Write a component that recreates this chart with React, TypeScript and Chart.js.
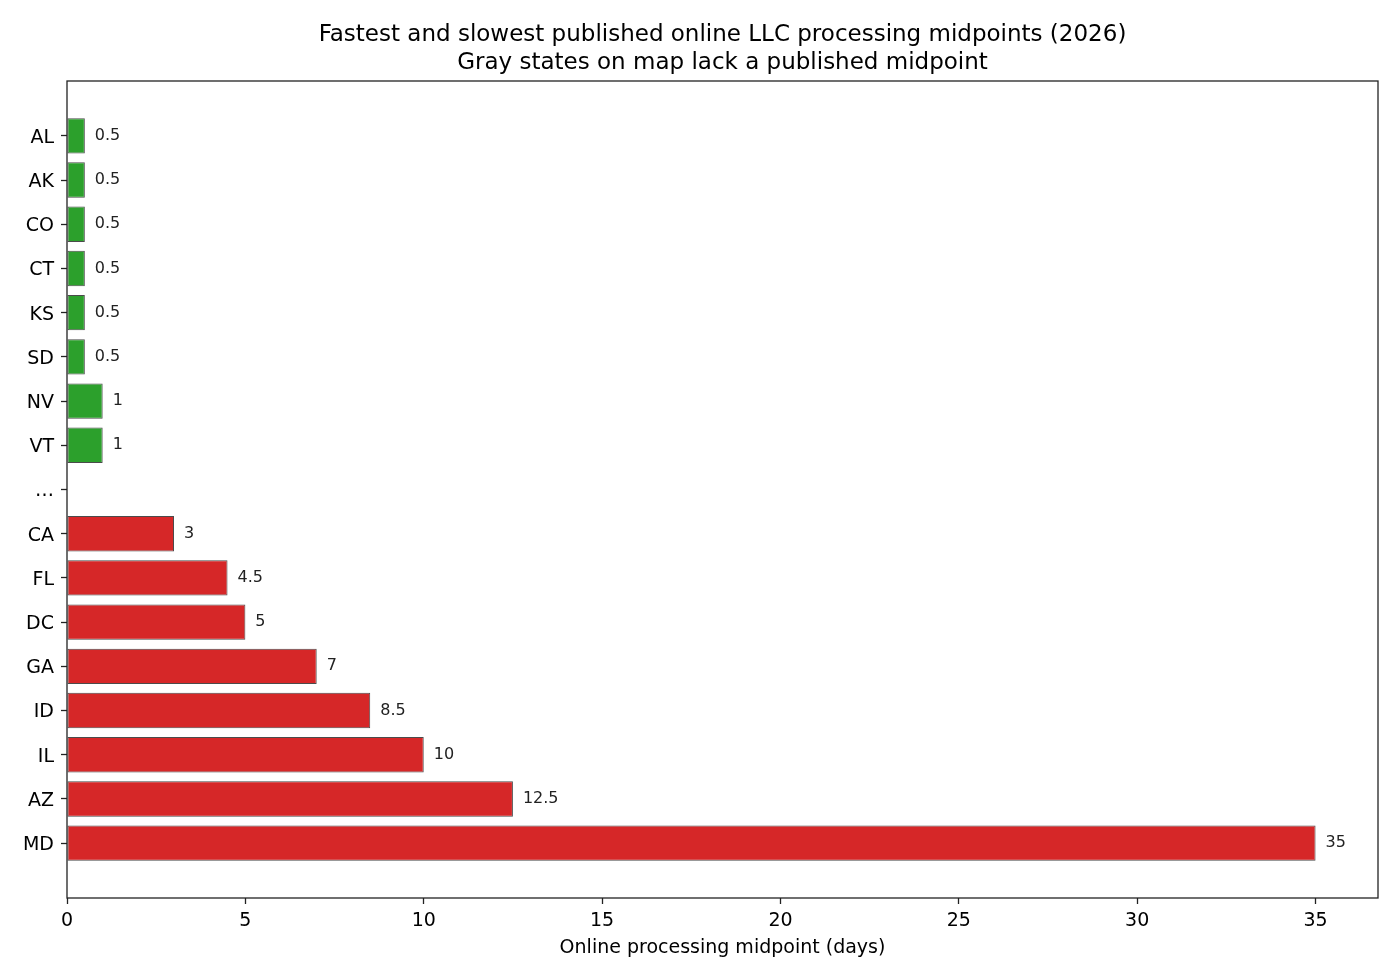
import { useEffect, useRef } from "react";
import { Chart, registerables } from "chart.js";

Chart.register(...registerables);

// fastest published midpoints (days)
const fastStates = ["AL", "AK", "CO", "CT", "KS", "SD", "NV", "VT"];
const fastDays = [0.5, 0.5, 0.5, 0.5, 0.5, 0.5, 1, 1];

// slowest published midpoints (days)
const slowStates = ["CA", "FL", "DC", "GA", "ID", "IL", "AZ", "MD"];
const slowDays = [3, 4.5, 5, 7, 8.5, 10, 12.5, 35];

const gapLabel = "…";
const xTicks = [0, 5, 10, 15, 20, 25, 30, 35];

const titleLines = [
  "Fastest and slowest published online LLC processing midpoints (2026)",
  "Gray states on map lack a published midpoint",
];
const xTitle = "Online processing midpoint (days)";

const fastColor = "#2ca02c";
const slowColor = "#d62728";
const font = "'DejaVu Sans', sans-serif";

const labels = [...fastStates, gapLabel, ...slowStates];
const values: (number | null)[] = [...fastDays, null, ...slowDays];
const barColors = [
  ...fastStates.map(() => fastColor),
  "rgba(0,0,0,0)",
  ...slowStates.map(() => slowColor),
];

const W = 1400;
const H = 980;
const PLOT = { left: 67, right: 1378, top: 81, bottom: 898 };

const decorPlugin = {
  id: "decor",
  afterDatasetsDraw(chart: Chart) {
    const ctx = chart.ctx;
    const meta = chart.getDatasetMeta(0);
    ctx.save();
    ctx.font = `16px ${font}`;
    ctx.fillStyle = "#222";
    ctx.textAlign = "left";
    ctx.textBaseline = "middle";
    meta.data.forEach((el: any, i) => {
      const v = values[i];
      if (v == null) return;
      ctx.fillText(String(v), el.x + 10, el.y);
    });
    ctx.restore();
  },
  afterDraw(chart: Chart) {
    const ctx = chart.ctx;
    const a = chart.chartArea;
    ctx.save();
    ctx.strokeStyle = "#222";
    ctx.lineWidth = 1.3;
    ctx.strokeRect(a.left, a.top, a.right - a.left, a.bottom - a.top);

    ctx.fillStyle = "#000";
    ctx.textAlign = "center";
    ctx.textBaseline = "middle";
    const cx = (a.left + a.right) / 2;
    ctx.font = `23px ${font}`;
    ctx.fillText(titleLines[0], cx, 35);
    ctx.fillText(titleLines[1], cx, 63);
    ctx.font = `19px ${font}`;
    ctx.fillText(xTitle, cx, 948);
    ctx.restore();
  },
};

export default function App() {
  const canvasRef = useRef<HTMLCanvasElement | null>(null);
  const chartRef = useRef<Chart | null>(null);

  useEffect(() => {
    const canvas = canvasRef.current;
    if (!canvas) return;

    chartRef.current?.destroy();

    chartRef.current = new Chart(canvas, {
      type: "bar",
      data: {
        datasets: [
          {
            data: values.map((v, i) => ({ x: v as any, y: i })),
            backgroundColor: barColors,
            borderColor: "rgba(55,55,55,0.9)",
            borderWidth: 1,
            borderSkipped: false,
            barPercentage: 0.8,
            categoryPercentage: 1,
          },
        ],
      },
      options: {
        indexAxis: "y",
        responsive: false,
        animation: false,
        devicePixelRatio: 1,
        layout: {
          padding: {
            left: 0,
            right: W - PLOT.right,
            top: PLOT.top,
            bottom: 0,
          },
        },
        plugins: {
          legend: { display: false },
          tooltip: { enabled: false },
          title: { display: false },
        },
        scales: {
          x: {
            type: "linear",
            min: 0,
            max: 36.75,
            offset: false,
            border: { display: false },
            grid: {
              offset: false,
              drawOnChartArea: false,
              drawTicks: true,
              tickLength: 6,
              tickWidth: 1.3,
              tickColor: "#222",
            },
            ticks: {
              stepSize: 5,
              includeBounds: false,
              padding: 6,
              color: "#000",
              font: { family: font, size: 19 },
            },
            afterBuildTicks: (scale: any) => {
              scale.ticks = xTicks.map((value) => ({ value }));
            },
            afterFit: (scale: any) => {
              scale.height = H - PLOT.bottom;
            },
          },
          y: {
            type: "linear",
            reverse: true,
            min: -1.24,
            max: 17.24,
            offset: false,
            border: { display: false },
            grid: {
              offset: false,
              drawOnChartArea: false,
              drawTicks: true,
              tickLength: 6,
              tickWidth: 1.3,
              tickColor: "#222",
            },
            ticks: {
              stepSize: 1,
              includeBounds: false,
              autoSkip: false,
              padding: 7,
              labelOffset: 2,
              color: "#000",
              font: { family: font, size: 19 },
              callback: (value: any) => labels[Number(value)] ?? "",
            },
            afterBuildTicks: (scale: any) => {
              scale.ticks = labels.map((_, i) => ({ value: i }));
            },
            afterFit: (scale: any) => {
              scale.width = PLOT.left;
            },
          },
        },
      },
      plugins: [decorPlugin],
    });

    return () => {
      chartRef.current?.destroy();
    };
  }, []);

  return (
    <div
      style={{
        position: "absolute",
        left: 0,
        top: 0,
        width: W,
        height: H,
        background: "#fff",
      }}
    >
      <canvas ref={canvasRef} width={W} height={H} />
    </div>
  );
}
